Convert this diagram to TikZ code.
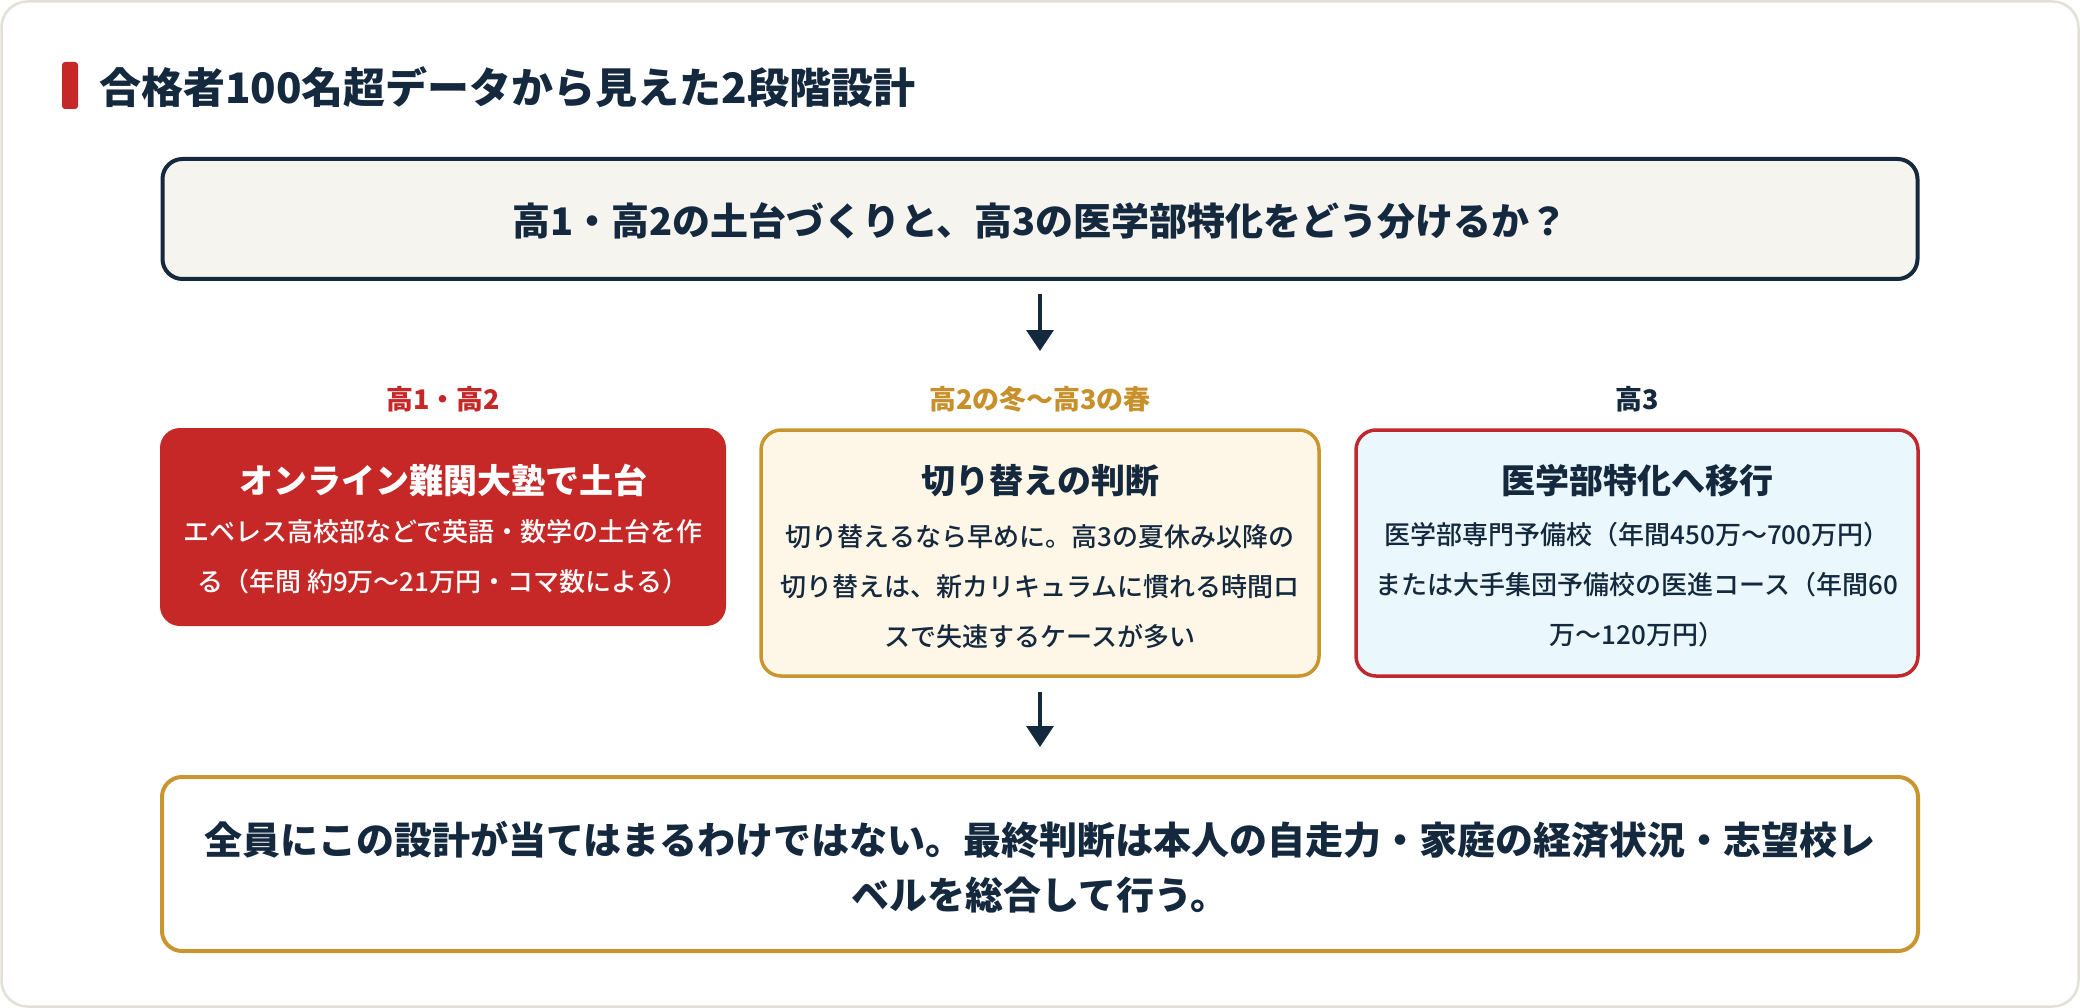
\documentclass[tikz,border=0pt]{standalone}
\usepackage{fontspec}
\setmainfont{Noto Sans CJK JP}
\newfontfamily\medfont{Noto Sans CJK JP Medium}
\usetikzlibrary{arrows.meta}
\definecolor{navy}{HTML}{14283E}
\definecolor{cred}{HTML}{C62828}
\definecolor{redline}{HTML}{C0282D}
\definecolor{gold}{HTML}{C9952F}
\definecolor{goldtxt}{HTML}{C8902A}
\definecolor{cream}{HTML}{FEF6E6}
\definecolor{lblue}{HTML}{EAF8FD}
\definecolor{qfill}{HTML}{F5F4EF}
\definecolor{framec}{HTML}{E2E0D6}
\tikzset{
  box/.style={rectangle, rounded corners=20pt, inner sep=0pt},
  boxtitle/.style={font=\fontsize{34}{40}\selectfont\bfseries, inner sep=0pt},
  boxbody/.style={font=\medfont\fontsize{26}{50}\selectfont, align=center, inner sep=0pt},
  colab/.style={font=\fontsize{27}{32}\selectfont\bfseries, inner sep=0pt},
  arr/.style={draw=navy, line width=3.5pt, -{Triangle[width=27pt,length=21pt]}},
}
\begin{document}
\begin{tikzpicture}[x=1pt,y=-1pt]
\useasboundingbox (0,0) rectangle (2080,1008);
\fill[white] (0,0) rectangle (2080,1008);
\draw[framec, line width=2.5pt, fill=white, rounded corners=26pt] (1.5,1.5) rectangle (2078.5,1006.5);
% title
\fill[cred, rounded corners=3pt] (62,62) rectangle (78,109);
\node[anchor=west, inner sep=0pt, text=navy, font=\fontsize{42}{48}\selectfont\bfseries] (title) at (99,87) {合格者100名超データから見えた2段階設計};
% question
\node[box, draw=navy, line width=4pt, fill=qfill, minimum width=1755pt, minimum height=120pt] (q) at (1040,219) {};
\node[inner sep=0pt, text=navy, font=\fontsize{38}{44}\selectfont\bfseries] (qt) at (1040,221) {高1・高2の土台づくりと、高3の医学部特化をどう分けるか？};
% column labels
\node[colab, text=cred] (lab1) at (443,399) {高1・高2};
\node[colab, text=goldtxt] (lab2) at (1040,399) {高2の冬〜高3の春};
\node[colab, text=navy] (lab3) at (1637,399) {高3};
% boxes
\node[box, fill=cred, minimum width=566pt, minimum height=198pt] (b1) at (443,527) {};
\node[box, draw=gold, fill=cream, line width=3.5pt, minimum width=558pt, minimum height=246pt] (b2) at (1040,553) {};
\node[box, draw=redline, fill=lblue, line width=3.5pt, minimum width=562pt, minimum height=246pt] (b3) at (1637,553) {};
\node[boxtitle, text=white] (t1) at (443,480) {オンライン難関大塾で土台};
\node[boxbody, text=white] (d1) at (443,557) {エベレス高校部などで英語・数学の土台を作\\る（年間 約9万〜21万円・コマ数による）};
\node[boxtitle, text=navy] (t2) at (1040,481) {切り替えの判断};
\node[boxbody, text=navy] (d2) at (1040,587) {切り替えるなら早めに。高3の夏休み以降の\\切り替えは、新カリキュラムに慣れる時間ロ\\スで失速するケースが多い};
\node[boxtitle, text=navy] (t3) at (1637,481) {医学部特化へ移行};
\node[boxbody, text=navy] (d3) at (1637,585) {医学部専門予備校（年間450万〜700万円）\\または大手集団予備校の医進コース（年間60\\万〜120万円）};
% bottom
\node[box, draw=gold, fill=white, line width=4pt, minimum width=1756pt, minimum height=174pt] (bot) at (1040,864) {};
\node[inner sep=0pt, align=center, text=navy, font=\fontsize{38}{55}\selectfont\bfseries] (bt) at (1040,867) {全員にこの設計が当てはまるわけではない。最終判断は本人の自走力・家庭の経済状況・志望校レ\\ベルを総合して行う。};
% arrows
\coordinate (a1e) at (1040,351);
\draw[arr, shorten <=13pt] (q.south) -- (a1e);
\draw[arr, shorten <=14pt, shorten >=28pt] (b2.south) -- (bot.north);
\end{tikzpicture}
\end{document}
